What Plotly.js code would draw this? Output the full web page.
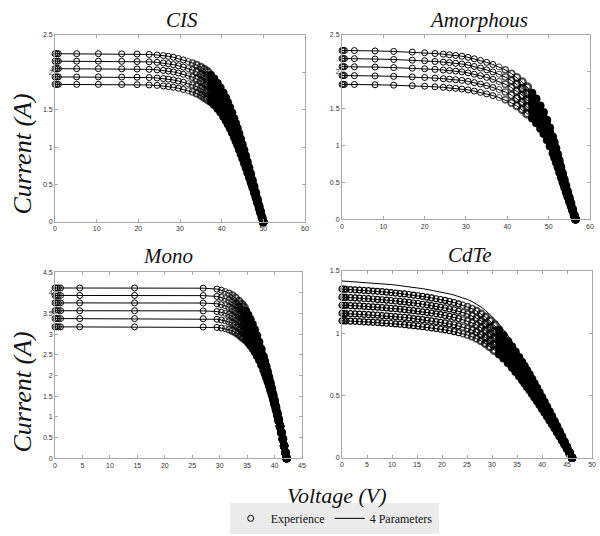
<!DOCTYPE html>
<html><head><meta charset="utf-8">
<script src="https://cdn.plot.ly/plotly-3.0.1.min.js"></script>
<style>html,body{margin:0;padding:0;background:#fff}#chart{width:600px;height:536px}</style>
</head><body><div id="chart"></div>
<script>
// ---------- CIS ----------
const cisV = [0, 0.4, 0.8, 5.2, 10.4, 16, 19.7, 22.6, 24.5, 26, 27.2, 28.4, 29.6, 30.8, 32, 33, 34, 35, 35.8, 36.6, 37.4, 38.2, 39, 39.7, 40.4, 41, 41.5, 42, 42.5, 43, 43.4, 43.8, 44.2, 44.6, 45, 45.4, 45.8, 46.2, 46.6, 47, 47.4, 47.8, 48.2, 48.6, 49, 49.35, 49.7, 50];
const cisI1 = [2.25, 2.25, 2.25, 2.25, 2.25, 2.248, 2.245, 2.24, 2.233, 2.225, 2.215, 2.202, 2.186, 2.167, 2.145, 2.125, 2.1, 2.07, 2.04, 2.005, 1.965, 1.915, 1.855, 1.795, 1.727, 1.66, 1.597, 1.531, 1.46, 1.384, 1.319, 1.253, 1.183, 1.111, 1.037, 0.962, 0.885, 0.807, 0.727, 0.645, 0.562, 0.478, 0.393, 0.307, 0.22, 0.143, 0.066, 0];
const cisI2 = [2.15, 2.15, 2.15, 2.15, 2.15, 2.148, 2.145, 2.141, 2.134, 2.126, 2.117, 2.104, 2.089, 2.071, 2.05, 2.031, 2.007, 1.978, 1.949, 1.916, 1.878, 1.83, 1.773, 1.715, 1.65, 1.586, 1.526, 1.463, 1.395, 1.323, 1.26, 1.197, 1.13, 1.062, 0.991, 0.919, 0.846, 0.771, 0.695, 0.616, 0.537, 0.457, 0.376, 0.293, 0.21, 0.137, 0.063, 0];
const cisI3 = [2.05, 2.05, 2.05, 2.05, 2.05, 2.048, 2.045, 2.041, 2.034, 2.027, 2.018, 2.006, 1.992, 1.974, 1.954, 1.936, 1.913, 1.886, 1.859, 1.827, 1.79, 1.745, 1.69, 1.635, 1.573, 1.512, 1.455, 1.395, 1.33, 1.261, 1.202, 1.142, 1.078, 1.012, 0.945, 0.876, 0.806, 0.735, 0.662, 0.588, 0.512, 0.436, 0.358, 0.28, 0.2, 0.13, 0.06, 0];
const cisI4 = [1.94, 1.94, 1.94, 1.94, 1.94, 1.938, 1.936, 1.931, 1.925, 1.918, 1.91, 1.899, 1.885, 1.868, 1.849, 1.832, 1.811, 1.785, 1.759, 1.729, 1.694, 1.651, 1.599, 1.548, 1.489, 1.431, 1.377, 1.32, 1.259, 1.193, 1.137, 1.08, 1.02, 0.958, 0.894, 0.829, 0.763, 0.696, 0.627, 0.556, 0.485, 0.412, 0.339, 0.265, 0.19, 0.123, 0.057, 0];
const cisI5 = [1.84, 1.84, 1.84, 1.84, 1.84, 1.838, 1.836, 1.832, 1.826, 1.82, 1.811, 1.801, 1.788, 1.772, 1.754, 1.738, 1.717, 1.693, 1.668, 1.64, 1.607, 1.566, 1.517, 1.468, 1.412, 1.358, 1.306, 1.252, 1.194, 1.132, 1.079, 1.025, 0.967, 0.909, 0.848, 0.787, 0.724, 0.66, 0.595, 0.527, 0.46, 0.391, 0.321, 0.251, 0.18, 0.117, 0.054, 0];

// ---------- Amorphous ----------
const amoV = [0, 0.3, 0.6, 3, 8, 12.5, 17, 20, 22.5, 24.5, 26, 27.5, 29, 30.5, 32, 33.5, 35, 36.5, 38, 39.5, 41, 42.3, 43.6, 44.8, 46, 47, 48, 48.8, 49.6, 50.3, 51, 51.4, 51.8, 52.2, 52.6, 53, 53.4, 53.8, 54.2, 54.6, 55, 55.4, 55.8, 56.2, 56.5];
const amoI1 = [2.29, 2.29, 2.29, 2.289, 2.284, 2.277, 2.268, 2.259, 2.249, 2.24, 2.232, 2.223, 2.212, 2.197, 2.177, 2.155, 2.129, 2.1, 2.067, 2.027, 1.977, 1.925, 1.863, 1.793, 1.714, 1.634, 1.539, 1.451, 1.347, 1.241, 1.121, 1.045, 0.965, 0.882, 0.797, 0.711, 0.626, 0.542, 0.46, 0.38, 0.3, 0.22, 0.14, 0.06, 0];
const amoI2 = [2.18, 2.18, 2.18, 2.179, 2.174, 2.168, 2.159, 2.151, 2.141, 2.132, 2.125, 2.116, 2.106, 2.092, 2.073, 2.052, 2.027, 1.999, 1.968, 1.93, 1.882, 1.833, 1.774, 1.707, 1.632, 1.556, 1.465, 1.381, 1.282, 1.181, 1.067, 0.995, 0.919, 0.84, 0.759, 0.677, 0.596, 0.516, 0.438, 0.362, 0.286, 0.209, 0.133, 0.057, 0];
const amoI3 = [2.07, 2.07, 2.07, 2.069, 2.065, 2.058, 2.05, 2.042, 2.033, 2.025, 2.018, 2.01, 2.0, 1.986, 1.968, 1.948, 1.925, 1.898, 1.869, 1.832, 1.787, 1.74, 1.684, 1.621, 1.549, 1.477, 1.391, 1.312, 1.218, 1.122, 1.013, 0.945, 0.872, 0.797, 0.72, 0.643, 0.566, 0.49, 0.416, 0.344, 0.271, 0.199, 0.127, 0.054, 0];
const amoI4 = [1.95, 1.95, 1.95, 1.949, 1.945, 1.939, 1.931, 1.924, 1.915, 1.907, 1.901, 1.893, 1.884, 1.871, 1.854, 1.835, 1.813, 1.788, 1.76, 1.726, 1.683, 1.639, 1.586, 1.527, 1.459, 1.391, 1.31, 1.236, 1.147, 1.057, 0.955, 0.89, 0.822, 0.751, 0.679, 0.605, 0.533, 0.462, 0.392, 0.324, 0.255, 0.187, 0.119, 0.051, 0];
const amoI5 = [1.83, 1.83, 1.83, 1.829, 1.825, 1.819, 1.812, 1.805, 1.797, 1.79, 1.783, 1.776, 1.767, 1.755, 1.739, 1.722, 1.701, 1.678, 1.652, 1.62, 1.58, 1.538, 1.489, 1.433, 1.369, 1.306, 1.23, 1.159, 1.076, 0.992, 0.896, 0.835, 0.771, 0.705, 0.637, 0.568, 0.5, 0.433, 0.368, 0.304, 0.24, 0.176, 0.112, 0.048, 0];

// ---------- Mono ----------
const monoV = [0, 0.3, 0.6, 1, 4.5, 14.5, 27, 29.5, 30.3, 31, 31.7, 32.3, 32.9, 33.5, 34, 34.4, 34.8, 35.2, 35.6, 36, 36.4, 36.8, 37.2, 37.6, 38, 38.25, 38.5, 38.75, 39, 39.25, 39.5, 39.75, 40, 40.25, 40.5, 40.75, 41, 41.25, 41.5, 41.75, 42, 42.2];
const monoI1 = [4.12, 4.12, 4.12, 4.12, 4.12, 4.12, 4.115, 4.094, 4.067, 4.036, 3.993, 3.943, 3.879, 3.799, 3.72, 3.646, 3.562, 3.467, 3.361, 3.243, 3.113, 2.97, 2.814, 2.646, 2.467, 2.349, 2.226, 2.099, 1.968, 1.834, 1.696, 1.554, 1.408, 1.259, 1.107, 0.952, 0.794, 0.633, 0.469, 0.303, 0.135, 0];
const monoI2 = [3.94, 3.94, 3.94, 3.94, 3.94, 3.94, 3.935, 3.916, 3.892, 3.863, 3.824, 3.778, 3.719, 3.646, 3.573, 3.505, 3.427, 3.34, 3.241, 3.131, 3.01, 2.876, 2.73, 2.572, 2.402, 2.29, 2.173, 2.052, 1.927, 1.798, 1.665, 1.528, 1.387, 1.242, 1.094, 0.942, 0.787, 0.629, 0.467, 0.302, 0.135, 0];
const monoI3 = [3.76, 3.76, 3.76, 3.76, 3.76, 3.76, 3.756, 3.739, 3.716, 3.691, 3.655, 3.613, 3.56, 3.493, 3.427, 3.364, 3.293, 3.212, 3.121, 3.02, 2.908, 2.783, 2.646, 2.498, 2.338, 2.232, 2.121, 2.006, 1.886, 1.763, 1.635, 1.503, 1.366, 1.225, 1.081, 0.933, 0.781, 0.625, 0.464, 0.301, 0.135, 0];
const monoI4 = [3.57, 3.57, 3.57, 3.57, 3.57, 3.57, 3.566, 3.551, 3.531, 3.508, 3.476, 3.439, 3.391, 3.331, 3.272, 3.215, 3.151, 3.078, 2.995, 2.902, 2.799, 2.684, 2.557, 2.419, 2.27, 2.17, 2.065, 1.956, 1.843, 1.725, 1.603, 1.476, 1.344, 1.208, 1.067, 0.923, 0.774, 0.62, 0.462, 0.3, 0.134, 0];
const monoI5 = [3.38, 3.38, 3.38, 3.38, 3.38, 3.38, 3.377, 3.363, 3.346, 3.326, 3.298, 3.265, 3.223, 3.17, 3.117, 3.067, 3.009, 2.943, 2.869, 2.785, 2.691, 2.585, 2.469, 2.341, 2.202, 2.108, 2.01, 1.907, 1.799, 1.687, 1.571, 1.449, 1.322, 1.19, 1.054, 0.913, 0.767, 0.616, 0.459, 0.299, 0.134, 0];
const monoI6 = [3.18, 3.18, 3.18, 3.18, 3.18, 3.18, 3.177, 3.166, 3.151, 3.134, 3.11, 3.082, 3.046, 3.0, 2.954, 2.91, 2.859, 2.801, 2.735, 2.661, 2.576, 2.482, 2.376, 2.258, 2.13, 2.043, 1.952, 1.855, 1.754, 1.648, 1.537, 1.42, 1.298, 1.171, 1.039, 0.902, 0.759, 0.611, 0.457, 0.298, 0.134, 0];

// ---------- CdTe ----------
const cdteV = [0, 0.4, 0.8, 1.7, 2.6, 3.5, 4.4, 5.3, 6.2, 7.1, 8, 8.9, 9.8, 10.7, 11.6, 12.5, 13.4, 14.3, 15.2, 16.1, 17, 17.9, 18.8, 19.7, 20.6, 21.5, 22.4, 23.3, 24.2, 25.1, 26, 26.9, 27.8, 28.7, 29.6, 30.5, 31.4, 32.3, 33.2, 34, 34.7, 35.4, 36, 36.5, 37, 37.5, 38, 38.5, 39, 39.5, 40, 40.5, 41, 41.5, 42, 42.5, 43, 43.5, 44, 44.5, 45, 45.5, 46];
const cdteTop = [1.42, 1.419, 1.418, 1.416, 1.414, 1.412, 1.409, 1.407, 1.404, 1.401, 1.398, 1.394, 1.391, 1.387, 1.383, 1.379, 1.374, 1.369, 1.364, 1.358, 1.352, 1.346, 1.339, 1.332, 1.325, 1.316, 1.307, 1.296, 1.284, 1.271, 1.255, 1.235, 1.211, 1.183, 1.151, 1.114, 1.074, 1.03, 0.981, 0.935, 0.892, 0.846, 0.806, 0.771, 0.736, 0.7, 0.663, 0.625, 0.587, 0.548, 0.509, 0.47, 0.43, 0.389, 0.349, 0.307, 0.265, 0.223, 0.179, 0.135, 0.091, 0.045, 0];
const cdteI1 = [1.355, 1.354, 1.353, 1.351, 1.349, 1.347, 1.344, 1.342, 1.339, 1.337, 1.334, 1.33, 1.327, 1.323, 1.319, 1.316, 1.311, 1.306, 1.301, 1.296, 1.29, 1.284, 1.277, 1.271, 1.264, 1.255, 1.247, 1.236, 1.225, 1.213, 1.197, 1.178, 1.155, 1.129, 1.098, 1.063, 1.025, 0.983, 0.936, 0.892, 0.851, 0.807, 0.769, 0.736, 0.702, 0.668, 0.633, 0.596, 0.56, 0.523, 0.486, 0.448, 0.41, 0.371, 0.333, 0.293, 0.253, 0.213, 0.171, 0.129, 0.087, 0.043, 0];
const cdteI2 = [1.29, 1.288, 1.288, 1.286, 1.284, 1.282, 1.279, 1.278, 1.275, 1.272, 1.269, 1.266, 1.263, 1.259, 1.256, 1.252, 1.248, 1.243, 1.239, 1.233, 1.228, 1.222, 1.216, 1.209, 1.203, 1.195, 1.187, 1.177, 1.166, 1.154, 1.14, 1.121, 1.1, 1.074, 1.045, 1.012, 0.975, 0.935, 0.891, 0.849, 0.81, 0.768, 0.732, 0.7, 0.668, 0.636, 0.602, 0.568, 0.533, 0.498, 0.462, 0.427, 0.39, 0.353, 0.317, 0.279, 0.241, 0.202, 0.163, 0.123, 0.083, 0.041, 0];
const cdteI3 = [1.225, 1.225, 1.224, 1.222, 1.22, 1.219, 1.216, 1.214, 1.212, 1.209, 1.206, 1.203, 1.2, 1.197, 1.194, 1.19, 1.186, 1.181, 1.177, 1.172, 1.167, 1.162, 1.156, 1.15, 1.143, 1.136, 1.128, 1.118, 1.108, 1.097, 1.083, 1.066, 1.045, 1.021, 0.993, 0.961, 0.927, 0.889, 0.847, 0.807, 0.77, 0.73, 0.696, 0.665, 0.635, 0.604, 0.572, 0.539, 0.507, 0.473, 0.439, 0.406, 0.371, 0.336, 0.301, 0.265, 0.229, 0.192, 0.154, 0.117, 0.079, 0.039, 0];
const cdteI4 = [1.16, 1.159, 1.158, 1.157, 1.155, 1.154, 1.151, 1.15, 1.147, 1.145, 1.142, 1.139, 1.136, 1.133, 1.13, 1.127, 1.123, 1.118, 1.114, 1.109, 1.105, 1.1, 1.094, 1.088, 1.083, 1.075, 1.068, 1.059, 1.049, 1.038, 1.025, 1.009, 0.989, 0.966, 0.94, 0.91, 0.877, 0.842, 0.801, 0.764, 0.729, 0.691, 0.659, 0.63, 0.601, 0.572, 0.542, 0.511, 0.48, 0.448, 0.416, 0.384, 0.351, 0.318, 0.285, 0.251, 0.217, 0.182, 0.146, 0.11, 0.074, 0.037, 0];
const cdteI5 = [1.1, 1.1, 1.099, 1.097, 1.096, 1.094, 1.092, 1.09, 1.088, 1.086, 1.083, 1.08, 1.078, 1.075, 1.072, 1.069, 1.065, 1.061, 1.057, 1.052, 1.048, 1.043, 1.038, 1.032, 1.027, 1.02, 1.013, 1.004, 0.995, 0.985, 0.973, 0.957, 0.939, 0.917, 0.892, 0.863, 0.832, 0.798, 0.76, 0.725, 0.691, 0.656, 0.625, 0.598, 0.57, 0.543, 0.514, 0.484, 0.455, 0.425, 0.394, 0.364, 0.333, 0.301, 0.27, 0.238, 0.205, 0.173, 0.139, 0.105, 0.071, 0.035, 0];

// ---------- labels ----------
const panelTitles = ['CIS', 'Amorphous', 'Mono', 'CdTe'];
const yLabel = 'Current (A)';
const xLabel = 'Voltage (V)';
const legendNames = ['Experience', '4 Parameters'];

// ramp: voltage span over which the measured circles crowd together into the solid black band
const panels = [
  {xa: 'x',  ya: 'y',  v: cisV,  ramp: [32, 37.2], openLw: 1,   lines: [cisI1, cisI2, cisI3, cisI4, cisI5], marks: [cisI1, cisI2, cisI3, cisI4, cisI5]},
  {xa: 'x2', ya: 'y2', v: amoV,  ramp: [38, 45.5], openLw: 1,   lines: [amoI1, amoI2, amoI3, amoI4, amoI5], marks: [amoI1, amoI2, amoI3, amoI4, amoI5]},
  {xa: 'x3', ya: 'y3', v: monoV, ramp: [31, 34.6], openLw: 1,   lines: [monoI1, monoI2, monoI3, monoI4, monoI5, monoI6], marks: [monoI1, monoI2, monoI3, monoI4, monoI5, monoI6]},
  {xa: 'x4', ya: 'y4', v: cdteV, ramp: [24, 31.2], openLw: 1.2, lines: [cdteTop, cdteI1, cdteI2, cdteI3, cdteI4, cdteI5], marks: [cdteI1, cdteI2, cdteI3, cdteI4, cdteI5]}
];

const traces = [];
let lineLegend = false, markLegend = false;
panels.forEach(p => {
  p.lines.forEach(arr => {
    traces.push({
      type: 'scatter', mode: 'lines', x: p.v, y: arr, xaxis: p.xa, yaxis: p.ya,
      line: {color: '#000', width: 1}, cliponaxis: false, hoverinfo: 'skip',
      name: legendNames[1], showlegend: !lineLegend, legendrank: 2
    });
    lineLegend = true;
  });
});
panels.forEach(p => {
  const a = p.ramp[0], b = p.ramp[1];
  const openIdx = [], rampIdx = [], solidIdx = [];
  p.v.forEach((v, i) => (v < a ? openIdx : (v < b ? rampIdx : solidIdx)).push(i));
  const t = i => (p.v[i] - a) / (b - a);
  const rSize = rampIdx.map(i => 6 + 1.4 * t(i));
  const rLw = rampIdx.map(i => p.openLw + 1.8 * t(i));
  const base = {type: 'scatter', mode: 'markers', xaxis: p.xa, yaxis: p.ya, cliponaxis: false,
    hoverinfo: 'skip', name: legendNames[0], legendgroup: 'exp', showlegend: false};
  p.marks.forEach(arr => {
    traces.push(Object.assign({}, base, {
      x: openIdx.map(i => p.v[i]), y: openIdx.map(i => arr[i]),
      marker: {symbol: 'circle-open', size: 6, color: '#000', line: {width: p.openLw, color: '#000'}},
      showlegend: !markLegend, legendrank: 1
    }));
    markLegend = true;
    traces.push(Object.assign({}, base, {
      x: rampIdx.map(i => p.v[i]), y: rampIdx.map(i => arr[i]),
      marker: {symbol: 'circle-open', size: rSize, color: '#000', line: {width: rLw, color: '#000'}}
    }));
    traces.push(Object.assign({}, base, {
      x: solidIdx.map(i => p.v[i]), y: solidIdx.map(i => arr[i]),
      marker: {symbol: 'circle', size: 8, color: '#000', opacity: 1, line: {width: 0.5, color: '#000'}}
    }));
  });
});

function ax(domain, range, dtick, anchor) {
  return {
    domain: domain, range: range, dtick: dtick, tick0: 0, anchor: anchor,
    showline: true, linecolor: '#a8a8a8', linewidth: 1, mirror: 'ticks',
    ticks: 'inside', ticklen: 3, tickcolor: '#a8a8a8', tickwidth: 1,
    showgrid: false, zeroline: false, fixedrange: true,
    tickfont: {family: 'Liberation Sans, Arial, sans-serif', size: 7, color: '#333333'}
  };
}

const serif = 'Liberation Serif, Times New Roman, serif';
function ann(text, x, y, size, angle) {
  return {text: text, x: x, y: y, xref: 'paper', yref: 'paper', showarrow: false,
    xanchor: 'center', yanchor: 'middle', textangle: angle || 0,
    font: {family: serif, size: size, color: '#111', style: 'italic'}};
}

const layout = {
  width: 600, height: 536,
  margin: {l: 0, r: 0, t: 0, b: 0, autoexpand: false},
  paper_bgcolor: '#fff', plot_bgcolor: '#fff',
  xaxis:  ax([0.0917, 0.5083], [0, 60], 10, 'y'),
  yaxis:  ax([0.5858, 0.9347], [0, 2.5], 0.5, 'x'),
  xaxis2: ax([0.57, 0.9833], [0, 60], 10, 'y2'),
  yaxis2: ax([0.5909, 0.9347], [0, 2.5], 0.5, 'x2'),
  xaxis3: ax([0.0917, 0.5033], [0, 45], 5, 'y3'),
  yaxis3: ax([0.145, 0.492], [0, 4.5], 0.5, 'x3'),
  xaxis4: ax([0.57, 0.9867], [0, 50], 5, 'y4'),
  yaxis4: ax([0.1461, 0.4944], [0, 1.5], 0.5, 'x4'),
  showlegend: true,
  legend: {orientation: 'h', x: 0.557, xanchor: 'center', y: 0.004, yanchor: 'bottom',
    bgcolor: '#ebebeb', bordercolor: '#ebebeb', borderwidth: 1, itemwidth: 30,
    font: {family: serif, size: 12, color: '#111'}, traceorder: 'normal'},
  annotations: [
    ann(panelTitles[0], 0.3033, 0.9627, 21),
    ann(panelTitles[1], 0.7983, 0.9627, 21),
    ann(panelTitles[2], 0.28, 0.5224, 21),
    ann(panelTitles[3], 0.7833, 0.5243, 21),
    ann(yLabel, 0.0375, 0.7127, 26, -90),
    ann(yLabel, 0.0375, 0.2687, 26, -90),
    ann(xLabel, 0.5617, 0.076, 22)
  ]
};

Plotly.newPlot('chart', traces, layout, {displayModeBar: false, staticPlot: true});
</script>
</body></html>
